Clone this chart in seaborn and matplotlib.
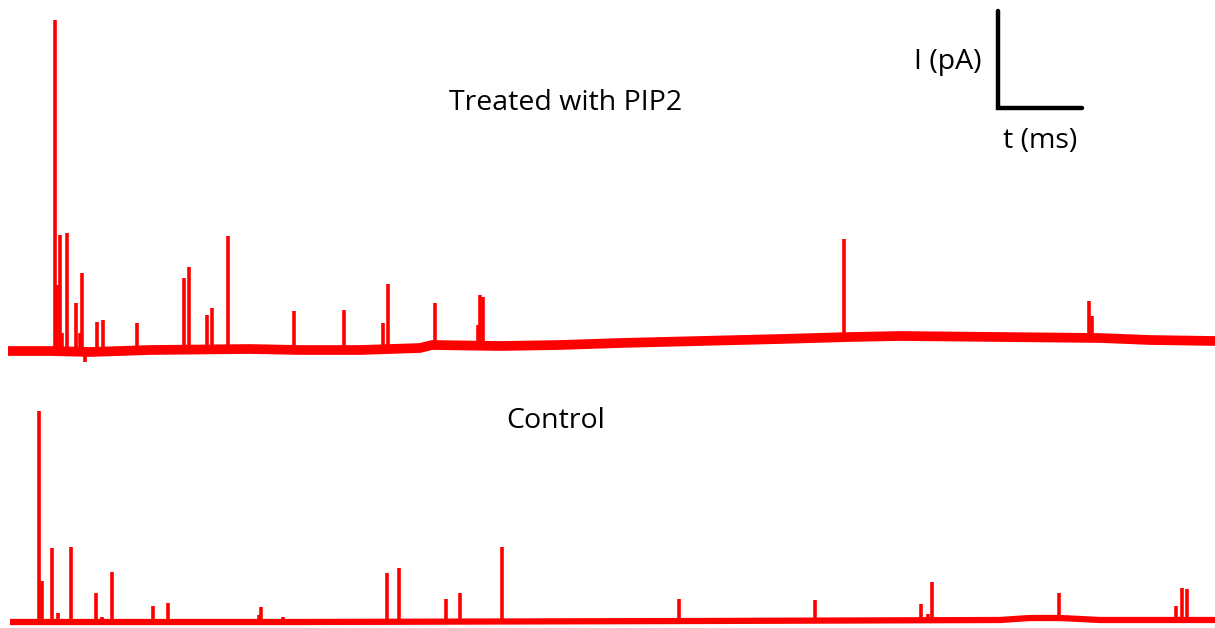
import numpy as np
import pandas as pd
import matplotlib
matplotlib.use("Agg")
import matplotlib.pyplot as plt
import seaborn as sns

sns.set_theme(style="white")
plt.rcParams['font.family'] = ['Open Sans', 'DejaVu Sans']

# ---- data (time axis 0..1215, current level axis 0..628, higher = more current) ----
H = 628
# Treated with PIP2: baseline drift points
top_base_t = [8, 50, 90, 150, 250, 300, 360, 420, 432, 500, 560, 620, 700, 780, 850, 900, 1000, 1100, 1150, 1215]
top_base_px = [351, 351, 352, 350, 349, 350, 350, 348, 345, 346, 345, 343, 341, 339, 337, 336, 337, 338, 340, 341]
# spikes: times and peak levels
top_spk_t = [55, 57.3, 60, 62, 67, 76, 80, 82, 85, 97, 103, 137, 184, 189, 207, 212, 228,
             294, 344, 383, 388, 435, 478, 480, 483, 844, 1089, 1092]
top_spk_px = [20, 285, 235, 333, 233, 303, 333, 273, 362, 322, 320, 323, 278, 267, 315, 308, 236,
              311, 310, 323, 284, 303, 325, 295, 297, 239, 301, 316]

# Control
bot_base_t = [10, 300, 700, 1000, 1030, 1060, 1100, 1215]
bot_base_px = [622, 622, 621, 620, 618, 618, 620, 620]
bot_spk_t = [39, 42, 52, 58, 71, 96, 102, 112, 153, 168, 259, 261, 283, 387, 399, 446, 460, 502,
             679, 815, 921, 928, 932, 1059, 1176, 1182, 1187]
bot_spk_px = [411, 581, 548, 613, 547, 593, 617, 572, 606, 603, 615, 607, 617, 573, 568, 599, 593, 547,
              599, 600, 604, 614, 582, 593, 606, 588, 589]

labels = ["Treated with PIP2", "Control"]
scale_labels = ["I (pA)", "t (ms)"]

RED = "#ff0000"

fig = plt.figure(figsize=(12.15, 6.28), dpi=100)
ax = fig.add_axes([0, 0, 1, 1])
ax.set_xlim(0, 1215)
ax.set_ylim(0, H)
ax.axis("off")

def draw_trace(bt, bpx, st, spx, base_lw):
    bl = H - np.array(bpx, dtype=float)
    df = pd.DataFrame({"t": bt, "I": bl})
    sns.lineplot(data=df, x="t", y="I", ax=ax, color=RED, lw=base_lw, sort=False,
                 estimator=None, solid_capstyle="butt")
    st = np.array(st, dtype=float)
    pk = H - np.array(spx, dtype=float)
    b0 = np.interp(st, bt, bl)
    ax.vlines(st, b0, pk, color=RED, lw=2.6)

draw_trace(top_base_t, top_base_px, top_spk_t, top_spk_px, 7.0)
draw_trace(bot_base_t, bot_base_px, bot_spk_t, bot_spk_px, 4.5)

ax.text(566, H - 103, labels[0], ha="center", va="center", fontsize=20.5, color="black")
ax.text(556, H - 421, labels[1], ha="center", va="center", fontsize=20.5, color="black")

# scale bar
ax.plot([998, 998, 1082], [H - 11, H - 108, H - 108], color="black", lw=3.2, solid_joinstyle="miter")
ax.text(981, H - 62, scale_labels[0], ha="right", va="center", fontsize=20.5, color="black")
ax.text(1040, H - 141, scale_labels[1], ha="center", va="center", fontsize=20.5, color="black")

fig.savefig("out.png", dpi=100)
